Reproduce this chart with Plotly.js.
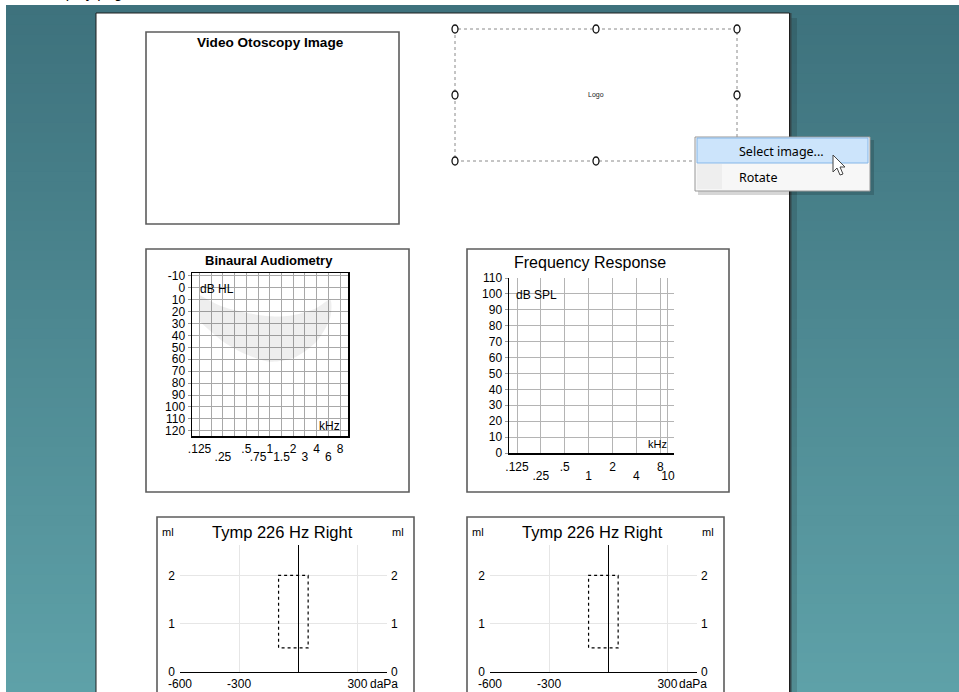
<!DOCTYPE html>
<html><head><meta charset="utf-8">
<script src="https://cdn.plot.ly/plotly-3.0.1.min.js"></script>
<style>html,body{margin:0;padding:0;background:#fff;overflow:hidden}#chart{width:959px;height:692px}</style>
</head><body><div id="chart"></div>
<script>
// ---------------- data ----------------
const audioDbTicks = [-10,0,10,20,30,40,50,60,70,80,90,100,110,120];
const audioDbText = ['-10','0','10','20','30','40','50','60','70','80','90','100','110','120'];
const audioFreqUpperVals = [0.125,0.5,1,2,4,8];
const audioFreqUpperText = ['.125','.5','1','2','4','8'];
const audioFreqLowerVals = [0.25,0.75,1.5,3,6];
const audioFreqLowerText = ['.25','.75','1.5','3','6'];
const bananaFreq = [0.125,0.25,0.5,1,2,4,6];
const bananaUpperDb = [6,16,21,24,23,17,10];
const bananaLowerDb = [28,45,56,62,59,45,25];

const frDbTicks = [0,10,20,30,40,50,60,70,80,90,100,110];
const frGridFreqs = [0.125,0.25,0.5,1,2,4,8,10];
const frFreqUpperVals = [0.125,0.5,2,8];
const frFreqUpperText = ['.125','.5','2','8'];
const frFreqLowerVals = [0.25,1,4,10];
const frFreqLowerText = ['.25','1','4','10'];

const tympPressureTicks = [-600,-300,300];
const tympPressureText = ['-600','-300','300'];
const tympGridPressure = [-300,300];
const tympVolumeTicks = [0,1,2];
const tympNormalPressure = [-100,50];
const tympNormalVolume = [0.5,2.0];

// ---------------- helpers ----------------
const W=959,H=692;
const X=p=>p/W, Y=p=>1-p/H;
const FONT='Liberation Sans, Arial, sans-serif';
const shapes=[];
function rect(x0,y0,x1,y1,fill,line,lw,dash){
  shapes.push({type:'rect',xref:'paper',yref:'paper',layer:'below',
    x0:X(x0),x1:X(x1),y0:Y(y1),y1:Y(y0),fillcolor:fill||'rgba(0,0,0,0)',
    line:{color:line||'rgba(0,0,0,0)',width:lw||0,dash:dash||'solid'}});
}
function ell(cx,cy,rx,ry){
  shapes.push({type:'circle',xref:'paper',yref:'paper',layer:'below',
    x0:X(cx-rx),x1:X(cx+rx),y0:Y(cy+ry),y1:Y(cy-ry),fillcolor:'#fff',line:{color:'#111',width:1.3}});
}
const annotations=[];
function ann(text,x,y,o){
  o=o||{};
  annotations.push({text,xref:'paper',yref:'paper',x:X(x),y:Y(y),showarrow:false,
    xanchor:o.xa||'center',yanchor:o.ya||'middle',
    font:{family:o.family||FONT,size:o.size||12,color:o.color||'#000',weight:o.weight||'normal'}});
}
const halfOct=f=>0.125*Math.pow(2,Math.round(2*Math.log2(f/0.125))/2);

// ---------------- background ----------------
const bgTop=[62,114,125], bgBot=[94,161,168];
const N=70, y0b=5, y1b=692;
for(let i=0;i<N;i++){
  const t=i/(N-1);
  const c=bgTop.map((v,j)=>Math.round(v+(bgBot[j]-v)*t));
  const ya=y0b+(y1b-y0b)*i/N, yb=y0b+(y1b-y0b)*(i+1)/N+1;
  rect(6,ya,W,yb,`rgb(${c[0]},${c[1]},${c[2]})`);
}
// page + shadow
rect(791,18,797,H,'rgba(0,0,0,0.13)');
rect(789,13,791.5,H,'#34474b');
rect(96,13,789.5,H+5,'#ffffff','#1e1e1e',1);

// panels
rect(146,32,399,224,'#fff','#5c5c5c',1.6);
rect(146,249,409,492,'#fff','#5c5c5c',1.6);
rect(467,249,729,492,'#fff','#5c5c5c',1.6);
rect(157,517,414,700,'#fff','#5c5c5c',1.6);
rect(467,517,724,700,'#fff','#5c5c5c',1.6);

// logo placeholder with handles
rect(455,29,737,161,null,'#8a8a8a',1,'dot');
[[455,29],[596,29],[737,29],[455,95],[737,95],[455,161],[596,161],[737,161]].forEach(p=>ell(p[0],p[1],3,4));

// context menu
rect(698,140,874,195,'rgba(0,0,0,0.16)');
rect(695,137,870,191,'#f7f7f7','#979797',1);
rect(697,164,722,189,'#eeeeee');
rect(697,138,868,163,'#cce4fb','#84b6e8',1);
// cursor
(function(){
  const tx=833, ty=155;
  const pts=[[0,0],[0,17],[4,13],[7,20],[10,19],[7,12],[12,12]];
  const d='M'+pts.map(p=>X(tx+p[0])+','+Y(ty+p[1])).join(' L')+' Z';
  shapes.push({type:'path',path:d,xref:'paper',yref:'paper',layer:'below',fillcolor:'#fff',line:{color:'#444',width:1}});
})();

// ---------------- texts ----------------
ann('Display page',42,3.5,{xa:'left',ya:'bottom',size:15});
ann('Video Otoscopy Image',270,43,{size:13.6,weight:'bold'});
ann('Logo',596,95,{size:7,color:'#222'});
ann('Select image...',737,151,{xa:'left',size:12.5,family:'Noto Sans, sans-serif'});
ann('Rotate',737,177,{xa:'left',size:12.5,family:'Noto Sans, sans-serif'});
ann('Binaural Audiometry',269,260,{size:13,weight:'bold'});
ann('dB HL',198,289,{xa:'left',size:12});
ann('kHz',329,426,{size:12});
ann('Frequency Response',590,262,{size:16});
ann('dB SPL',514,295,{xa:'left',size:12});
ann('kHz',657,444,{size:11});
[[157,298],[467,607]].forEach(([bx,zx])=>{
  ann('Tymp 226 Hz Right',bx+125,532,{size:16.5});
  ann('ml',bx+3,532,{xa:'left',size:11});
  ann('ml',bx+241,532,{size:11});
  ann('daPa',zx+70,684,{xa:'left',size:12});
});

// ---------------- traces ----------------
const traces=[];
traces.push({type:'scatter',mode:'lines',xaxis:'x',yaxis:'y',
  x:bananaFreq.concat(bananaFreq.slice().reverse()),
  y:bananaUpperDb.concat(bananaLowerDb.slice().reverse()),
  fill:'toself',fillcolor:'rgba(0,0,0,0.065)',line:{width:0,shape:'spline',smoothing:0.8},hoverinfo:'skip'});
[['x5','y5'],['x7','y7']].forEach(([xa,ya])=>{
  const [p0,p1]=tympNormalPressure,[v0,v1]=tympNormalVolume;
  traces.push({type:'scatter',mode:'lines',xaxis:xa,yaxis:ya,
    x:[p0,p0,p1,p1,p0],y:[v0,v1,v1,v0,v0],
    line:{color:'#000',width:1.2,dash:'3px,3px'},hoverinfo:'skip'});
});
// empty traces so that every axis pair (incl. overlays) is created and drawn
[['x2','y'],['x3','y3'],['x4','y3'],['x5','y6'],['x7','y8']].forEach(([xa,ya])=>{
  traces.push({type:'scatter',mode:'lines',xaxis:xa,yaxis:ya,x:[],y:[],hoverinfo:'skip'});
});

// ---------------- axes ----------------
const tf={family:FONT,size:12,color:'#000'};
const base={fixedrange:true,ticks:'',tickfont:tf,zeroline:false,showline:false,showgrid:false,autorange:false};
const audioGrid=[]; for(let k=0;k<=12;k++) audioGrid.push(0.125*Math.pow(2,k/2));
const audioGridText=audioGrid.map(g=>{const i=audioFreqUpperVals.findIndex(v=>Math.abs(v-g)<1e-6);return i>=0?audioFreqUpperText[i]:'';});
const frGridText=frGridFreqs.map(g=>{const i=frFreqUpperVals.indexOf(g);return i>=0?frFreqUpperText[i]:'';});

const layout={
  width:W,height:H,margin:{l:0,r:0,t:0,b:0},paper_bgcolor:'#fff',plot_bgcolor:'rgba(0,0,0,0)',
  showlegend:false,font:{family:FONT},shapes,annotations,
  // audiometry
  xaxis:Object.assign({},base,{type:'log',domain:[X(192),X(348)],range:[-1,1.006],anchor:'y',
    tickmode:'array',tickvals:audioGrid,ticktext:audioGridText,showgrid:true,gridcolor:'#a8a8a8',gridwidth:1,
    showline:true,mirror:true,linecolor:'#000',linewidth:1.5,ticklabelstandoff:1}),
  xaxis2:Object.assign({},base,{type:'log',overlaying:'x',anchor:'y',range:[-1,1.006],
    tickmode:'array',tickvals:audioFreqLowerVals.map(halfOct),ticktext:audioFreqLowerText,ticklabelstandoff:12}),
  yaxis:Object.assign({},base,{domain:[Y(436),Y(273)],range:[124.4,-12.4],anchor:'x',
    tickmode:'array',tickvals:audioDbTicks,ticktext:audioDbText,showgrid:true,gridcolor:'#a8a8a8',
    showline:true,mirror:true,linecolor:'#000',linewidth:1.5,ticks:'outside',ticklen:3,tickcolor:'#999'}),
  // frequency response
  xaxis3:Object.assign({},base,{type:'log',domain:[X(509),X(674)],range:[-1.004,1.076],anchor:'y3',
    tickmode:'array',tickvals:frGridFreqs,ticktext:frGridText,showgrid:true,gridcolor:'#b4b4b4',
    showline:true,linecolor:'#000',linewidth:1.5,ticklabelstandoff:2}),
  xaxis4:Object.assign({},base,{type:'log',overlaying:'x3',anchor:'y3',range:[-1.004,1.076],
    tickmode:'array',tickvals:frFreqLowerVals,ticktext:frFreqLowerText,ticklabelstandoff:14}),
  yaxis3:Object.assign({},base,{domain:[Y(453),Y(278)],range:[0,110],anchor:'x3',
    tickmode:'array',tickvals:frDbTicks,showgrid:true,gridcolor:'#b4b4b4',
    showline:true,linecolor:'#000',linewidth:1.5,ticks:'outside',ticklen:3,tickcolor:'#999'})
};
// tymps
[[5,180,387],[7,490,697]].forEach(([n,l,r])=>{
  const xa='xaxis'+n, ya='yaxis'+n, yb='yaxis'+(n+1);
  layout[xa]=Object.assign({},base,{domain:[X(l),X(r)],range:[-600,450],anchor:'y'+n,
    tickmode:'array',tickvals:tympPressureTicks,ticktext:tympPressureText,
    minor:{tickmode:'array',tickvals:tympGridPressure,showgrid:true,gridcolor:'#e6e6e6',ticks:''},
    zeroline:true,zerolinecolor:'#000',zerolinewidth:1.3,showline:true,linecolor:'#000',linewidth:1.3});
  layout[ya]=Object.assign({},base,{domain:[Y(672),Y(545)],range:[0,2.63],anchor:'x'+n,
    tickmode:'array',tickvals:tympVolumeTicks,showgrid:true,gridcolor:'#e6e6e6',ticklabelstandoff:4});
  layout[yb]=Object.assign({},base,{overlaying:'y'+n,side:'right',anchor:'x'+n,range:[0,2.63],
    tickmode:'array',tickvals:tympVolumeTicks,ticklabelstandoff:3});
});

Plotly.newPlot('chart',traces,layout,{staticPlot:true,displayModeBar:false});
</script></body></html>
